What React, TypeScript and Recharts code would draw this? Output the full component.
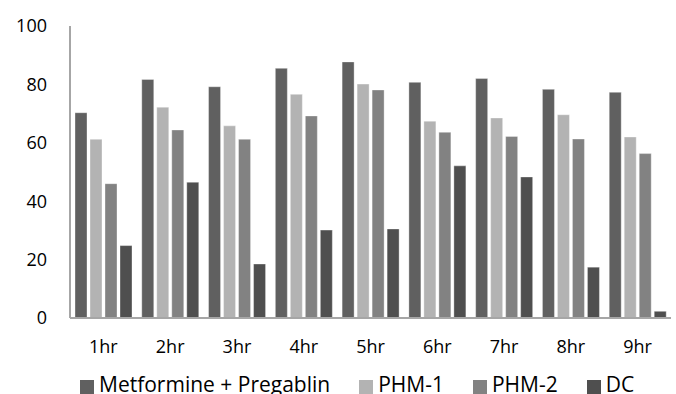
import { BarChart, Bar, XAxis, YAxis, Legend } from "recharts";

const hours = ["1hr", "2hr", "3hr", "4hr", "5hr", "6hr", "7hr", "8hr", "9hr"];
const metPreg = [70.3, 81.7, 79.2, 85.5, 87.7, 80.7, 82.0, 78.3, 77.3];
const phm1 = [61.2, 72.2, 65.8, 76.6, 80.1, 67.4, 68.5, 69.6, 62.0];
const phm2 = [46.0, 64.4, 61.2, 69.2, 78.1, 63.6, 62.2, 61.3, 56.3];
const dc = [24.8, 46.5, 18.5, 30.1, 30.5, 52.1, 48.3, 17.4, 2.3];
const yTicks = [0, 20, 40, 60, 80, 100];

const series = [
  { key: "met", name: "Metformine + Pregablin", color: "#606060" },
  { key: "phm1", name: "PHM-1", color: "#b3b3b3" },
  { key: "phm2", name: "PHM-2", color: "#828282" },
  { key: "dc", name: "DC", color: "#4f4f4f" },
];

const data = hours.map((h, i) => ({
  hour: h,
  met: metPreg[i],
  phm1: phm1[i],
  phm2: phm2[i],
  dc: dc[i],
}));

const font = "'Open Sans', sans-serif";

function LegendRow() {
  return (
    <div style={{ display: "flex", marginLeft: 80, paddingTop: 6, fontFamily: font, fontSize: 21, color: "#000" }}>
      {series.map((s, i) => (
        <div key={s.key} style={{ display: "flex", alignItems: "flex-start", marginRight: i < series.length - 1 ? 29 : 0 }}>
          <span style={{ width: 14, height: 14, background: s.color, marginTop: 10, marginRight: 5 }} />
          <span style={{ whiteSpace: "nowrap" }}>{s.name}</span>
        </div>
      ))}
    </div>
  );
}

export default function App() {
  return (
    <div style={{ position: "absolute", left: 0, top: 0, background: "#fff" }}>
      <BarChart
        width={676}
        height={394}
        data={data}
        margin={{ top: 26, right: 5, bottom: 0, left: 0 }}
        barCategoryGap={5}
        barGap={3}
        style={{ fontFamily: font }}
      >
        <XAxis
          dataKey="hour"
          height={46}
          tickLine={false}
          tickSize={0}
          tickMargin={22}
          axisLine={{ stroke: "#a6a6a6", strokeWidth: 2 }}
          tick={{ fill: "#000", fontSize: 18, fontFamily: font }}
        />
        <YAxis
          width={70}
          domain={[0, 100]}
          ticks={yTicks}
          tickLine={false}
          tickSize={0}
          tickMargin={23}
          axisLine={{ stroke: "#a6a6a6", strokeWidth: 2 }}
          tick={{ fill: "#000", fontSize: 18, fontFamily: font }}
        />
        <Legend
          verticalAlign="bottom"
          height={30}
          wrapperStyle={{ left: 0, height: 30 }}
          content={() => <LegendRow />}
        />
        {series.map(s => (
          <Bar
            key={s.key}
            dataKey={s.key}
            name={s.name}
            fill={s.color}
            stroke="#ffffff"
            strokeOpacity={0.35}
            strokeWidth={1}
            isAnimationActive={false}
          />
        ))}
      </BarChart>
    </div>
  );
}
